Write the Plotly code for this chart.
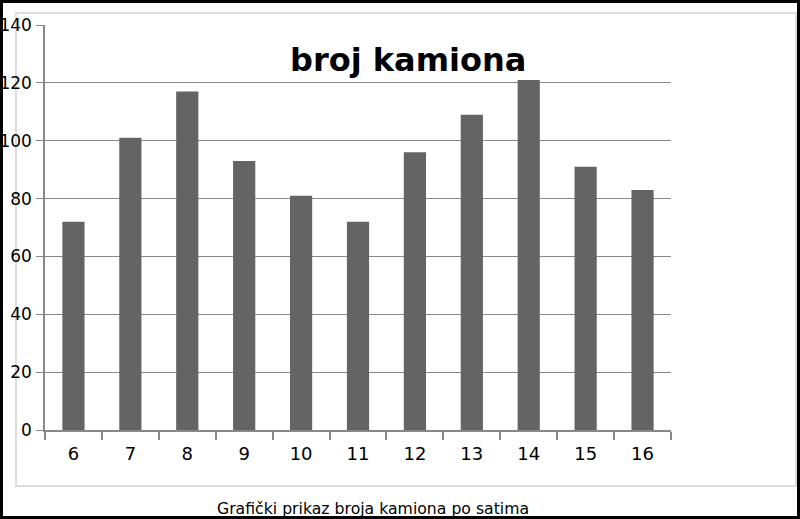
import plotly.graph_objects as go

hours = ["6", "7", "8", "9", "10", "11", "12", "13", "14", "15", "16"]
trucks = [72, 101, 117, 93, 81, 72, 96, 109, 121, 91, 83]
title_text = "broj kamiona"
caption_text = "Grafički prikaz broja kamiona po satima"

W, H = 800, 519
L, R, T, B = 45, 671, 25, 430

def px(x):
    return (x - L) / (R - L)

def py(y):
    return (B - y) / (B - T)

fig = go.Figure(go.Bar(x=hours, y=trucks, marker=dict(color="#646464", line=dict(width=0)), width=0.39))

fig.update_layout(
    width=W, height=H,
    margin=dict(l=L, r=W - R, t=T, b=H - B, autoexpand=False),
    paper_bgcolor="white", plot_bgcolor="white",
    showlegend=False,
    font=dict(family="DejaVu Sans", size=17, color="black"),
    bargap=0.61,
)
fig.update_xaxes(
    type="category", showline=True, linecolor="#888888", linewidth=1.5,
    ticks="outside", tickson="boundaries", ticklen=8, tickcolor="#888888", tickwidth=1.5,
    showgrid=False, automargin=False, ticklabelstandoff=7,
    tickfont=dict(size=18, family="DejaVu Sans", color="black"),
)
fig.update_yaxes(
    range=[0, 140], tickvals=[0, 20, 40, 60, 80, 100, 120, 140],
    showline=True, linecolor="#888888", linewidth=1.5,
    showgrid=True, gridcolor="#888888", gridwidth=1.3,
    ticks="outside", ticklen=7, tickcolor="#888888", tickwidth=1.3,
    zeroline=False, automargin=False, ticklabelstandoff=1,
    tickfont=dict(size=17, family="DejaVu Sans", color="black"),
)

fig.add_annotation(text="<b>" + title_text + "</b>", x=px(408), y=py(60), xref="paper", yref="paper",
                   showarrow=False, xanchor="center", yanchor="middle",
                   font=dict(family="DejaVu Sans", size=32, color="black"))
fig.add_annotation(text=caption_text, x=px(373), y=py(508), xref="paper", yref="paper",
                   showarrow=False, xanchor="center", yanchor="middle",
                   font=dict(family="DejaVu Sans", size=15.7, color="black"))

# inner light gray frame
fig.add_shape(type="rect", xref="paper", yref="paper", x0=px(16), x1=px(796), y0=py(486), y1=py(13),
              line=dict(color="#dddddd", width=2), layer="below")
# outer black border
fig.add_shape(type="rect", xref="paper", yref="paper", x0=px(1.5), x1=px(798.5), y0=py(517.5), y1=py(1.5),
              line=dict(color="black", width=3), layer="above")

fig.write_html("out.html", config={"displayModeBar": False},
               post_script="document.body.style.margin='0';document.body.style.overflow='hidden';")
